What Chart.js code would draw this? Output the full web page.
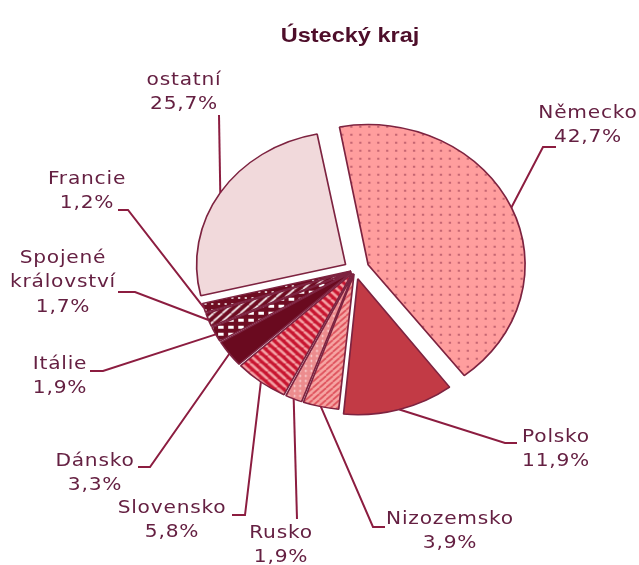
<!DOCTYPE html>
<html>
<head>
<meta charset="utf-8">
<script src="https://cdn.jsdelivr.net/npm/chart.js@4.4.1/dist/chart.umd.min.js"></script>
<style>
  html, body { margin: 0; padding: 0; background: #fff; }
</style>
</head>
<body>
<canvas id="pieChart" width="639" height="565"></canvas>
<script>
// data
const chartTitle = 'Ústecký kraj';
const countries = ['Německo', 'Polsko', 'Nizozemsko', 'Rusko', 'Slovensko', 'Dánsko', 'Itálie', 'Spojené království', 'Francie', 'ostatní'];
const shares = [42.7, 11.9, 3.9, 1.9, 5.8, 3.3, 1.9, 1.7, 1.2, 25.7];

// vzhled
const SX = 1.12;              // vodorovné roztažení (originál je elipsa)
const lineColor = '#8c1d40';
const textColor = '#652042';
const edgeColor = '#7d2340';
const sliceGaps = [20, 12, 7, 7, 7, 7, 7, 7, 7, 10];   // vysunutí výsečí v px

// pozice popisků: text, lomený bod, konec vodorovné čárky
const labelLayout = [
    { x: 588, y: 113, ex: 543, ey: 147, hx: 556 },
    { x: 556, y: 437, ex: 505, ey: 443, hx: 517 },
    { x: 450, y: 519, ex: 373, ey: 527, hx: 385 },
    { x: 281, y: 533, ex: 297, ey: 519, hx: 297 },
    { x: 172, y: 508, ex: 245, ey: 515, hx: 232 },
    { x: 95,  y: 461, ex: 150, ey: 467, hx: 138 },
    { x: 60,  y: 364, ex: 103, ey: 371, hx: 90 },
    { x: 63,  y: 258, ex: 135, ey: 292, hx: 118 },
    { x: 87,  y: 179, ex: 128, ey: 210, hx: 118 },
    { x: 184, y: 80,  ex: 219, ey: 115, hx: 219 }
];

// vzorky výplně
function makePattern(bg, w, h, draw) {
    const c = document.createElement('canvas');
    c.width = w; c.height = h;
    const g = c.getContext('2d');
    g.fillStyle = bg;
    g.fillRect(0, 0, w, h);
    if (draw) draw(g, w, h);
    return g.createPattern(c, 'repeat');
}
function stripes(color, width, dir) {
    return (g, w, h) => {
        g.strokeStyle = color;
        g.lineWidth = width;
        for (let k = -1; k <= 1; k++) {
            g.beginPath();
            if (dir === '/') { g.moveTo(k * w, h); g.lineTo(k * w + w, 0); }
            else { g.moveTo(k * w, 0); g.lineTo(k * w + w, h); }
            g.stroke();
        }
    };
}
function dots(color, r) {
    return (g, w, h) => {
        g.fillStyle = color;
        g.beginPath();
        g.arc(w / 2, h / 2, r, 0, Math.PI * 2);
        g.fill();
    };
}

const fills = [
    makePattern('#ff9e9e', 8, 8, dots('#b85868', 1.1)),            // Německo
    '#c23a45',                                                     // Polsko
    makePattern('#f6a6a4', 6, 6, stripes('#de4f5a', 1.6, '/')),    // Nizozemsko
    makePattern('#ec8c8e', 5, 5, dots('#fbe0e0', 0.9)),            // Rusko
    makePattern('#c81530', 8, 8, stripes('#f4a3a6', 2.6, '\\')),  // Slovensko
    '#6a0a1f',                                                     // Dánsko
    makePattern('#6e0c22', 9, 7, (g) => { g.fillStyle = '#ffffff'; g.fillRect(2, 2, 5, 3); }), // Itálie
    makePattern('#6e0c22', 8, 8, stripes('#ffffff', 1.6, '/')),    // Spojené království
    makePattern('#6e0c22', 6, 6, dots('#ffffff', 1.0)),            // Francie
    '#f1d9db'                                                      // ostatní
];

// převod vysunutí v px na option offset (Chart.js v4 dělí offset)
const total = shares.reduce((a, b) => a + b, 0);
const offsets = shares.map((v, i) => {
    const circ = v / total * Math.PI * 2;
    const fix = 1 - Math.sin(Math.min(Math.PI, circ));
    return sliceGaps[i] * 4 / (1 + fix);
});
function realGap(i) {
    const circ = shares[i] / total * Math.PI * 2;
    const fix = 1 - Math.sin(Math.min(Math.PI, circ));
    return offsets[i] / 4 * (1 + fix);
}

// roztažení koláče do elipsy
const ellipsePlugin = {
    id: 'ellipse',
    beforeDatasetsDraw(chart) {
        const arc = chart.getDatasetMeta(0).data[0];
        const ctx = chart.ctx;
        ctx.save();
        ctx.translate(arc.x, arc.y);
        ctx.scale(SX, 1);
        ctx.translate(-arc.x, -arc.y);
    },
    afterDatasetsDraw(chart) {
        chart.ctx.restore();
    }
};

function drawText(ctx, text, x, y) {
    ctx.save();
    ctx.translate(x, y);
    ctx.scale(SX, 1);
    ctx.fillText(text, 0, 0);
    ctx.restore();
}

// popisky s vodicími čarami + nadpis
const labelPlugin = {
    id: 'leaderLabels',
    afterDraw(chart) {
        const ctx = chart.ctx;
        const arcs = chart.getDatasetMeta(0).data;
        ctx.save();

        // nadpis
        ctx.fillStyle = '#4e0e2a';
        ctx.font = 'bold 21px "Liberation Sans", Arial, sans-serif';
        ctx.textAlign = 'center';
        ctx.textBaseline = 'alphabetic';
        drawText(ctx, chartTitle, 350, 42);

        ctx.font = '18px "DejaVu Sans", Verdana, sans-serif';
        ctx.letterSpacing = '0.7px';
        ctx.textBaseline = 'middle';
        arcs.forEach((arc, i) => {
            const p = arc.getProps(['x', 'y', 'startAngle', 'endAngle', 'outerRadius'], true);
            const mid = (p.startAngle + p.endAngle) / 2;
            const r = p.outerRadius + realGap(i);
            const ax = p.x + Math.cos(mid) * r * SX;
            const ay = p.y + Math.sin(mid) * r;
            const L = labelLayout[i];

            ctx.strokeStyle = lineColor;
            ctx.lineWidth = 2;
            ctx.beginPath();
            ctx.moveTo(ax, ay);
            ctx.lineTo(L.ex, L.ey);
            ctx.lineTo(L.hx, L.ey);
            ctx.stroke();

            const lines = countries[i] === 'Spojené království' ? countries[i].split(' ') : [countries[i]];
            lines.push(shares[i].toFixed(1).replace('.', ',') + '%');
            ctx.fillStyle = textColor;
            lines.forEach((t, j) => drawText(ctx, t, L.x, L.y + j * 24.5));
        });
        ctx.restore();
    }
};

const ctx = document.getElementById('pieChart').getContext('2d');
new Chart(ctx, {
    type: 'pie',
    data: {
        labels: countries,
        datasets: [{
            data: shares,
            backgroundColor: fills,
            borderColor: edgeColor,
            borderWidth: 1.5,
            offset: offsets
        }]
    },
    options: {
        responsive: false,
        animation: false,
        rotation: -11,
        radius: 133,
        layout: { padding: { left: 71, right: 0, top: 0, bottom: 25 } },
        plugins: {
            legend: { display: false },
            tooltip: { enabled: false },
            title: { display: false }
        }
    },
    plugins: [ellipsePlugin, labelPlugin]
});
</script>
</body>
</html>
